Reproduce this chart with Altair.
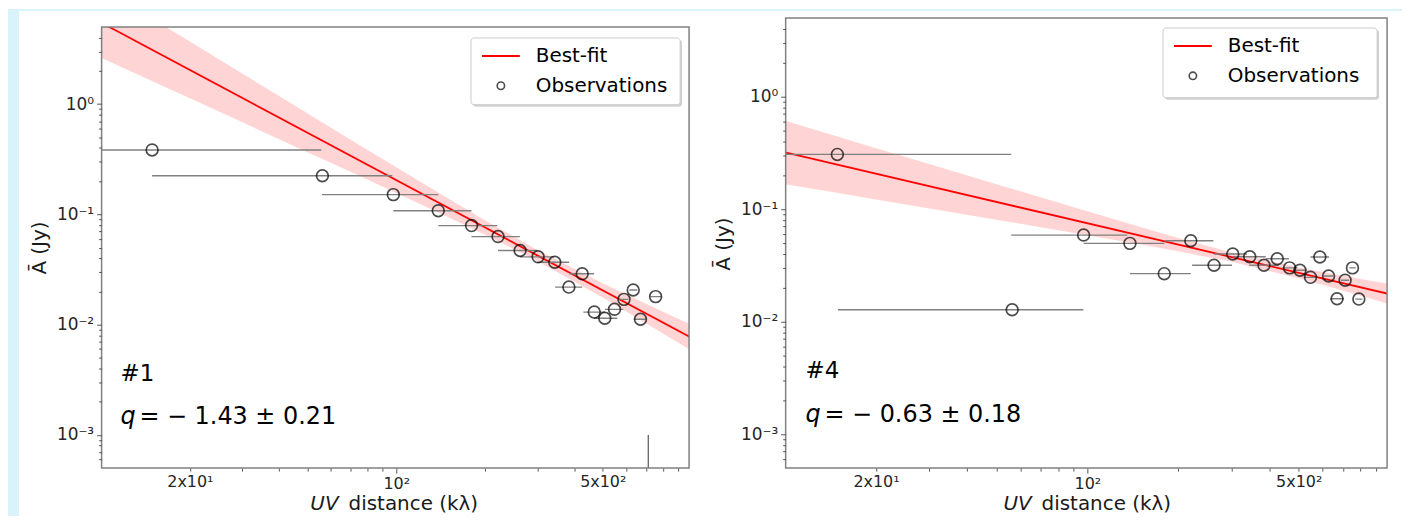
import altair as alt
import pandas as pd

# ---------------- data ----------------
# Panel #1 observations (UV distance in kλ, amplitude in Jy) with x-error extents
obs1_x = [14.9, 56.2, 97.7, 138.7, 179.8, 221, 262.5, 302, 344, 426, 384, 468, 508, 548, 590, 634, 671, 755]
obs1_y = [0.384, 0.224, 0.151, 0.108, 0.0791, 0.0629, 0.047, 0.0412, 0.0368, 0.0289, 0.0219, 0.0130,
          0.01143, 0.01377, 0.01695, 0.0206, 0.0112, 0.01795]
obs1_xlo = [9.0, 14.9, 56.0, 97.7, 138.7, 179.6, 221, 262, 300, 385, 345, 430, 467, 509, 570, 615, 637, 725]
obs1_xhi = [55.7, 97.0, 138.7, 179.6, 219.7, 262, 300, 342, 385, 467, 426, 509, 560, 587, 610, 655, 700, 790]

# Panel #4 observations
obs2_x = [14.9, 56.4, 97.2, 138.3, 179.6, 219.8, 262.4, 302.6, 344.4, 383.8, 424.7, 466.5, 504.9, 547,
          587.4, 627.7, 669.7, 712, 753, 790.6]
obs2_y = [0.307, 0.01277, 0.0589, 0.0497, 0.02675, 0.0524, 0.0318, 0.0400, 0.0378, 0.0318, 0.0363, 0.0301,
          0.0287, 0.0248, 0.0376, 0.0255, 0.0160, 0.0234, 0.0301, 0.01589]
obs2_xlo = [9.0, 14.96, 56.0, 97.2, 138.3, 180.3, 222, 262, 303, 343, 389, 440, 480, 520, 547, 605, 636, 690, 735, 770]
obs2_xhi = [56.0, 97.0, 135.5, 179.6, 219.8, 261, 301, 337, 389, 430, 464, 495, 530, 575, 630, 650, 705, 735, 772, 812]

# Best-fit power laws (end points) and uncertainty band edges
fit_x = [10, 1000]
fit1_y = [5.50, 0.00759]
fit2_y = [0.320, 0.01758]
band_x = [10, 15, 20, 30, 50, 70, 100, 150, 200, 300, 500, 700, 1000]
band1_lo = [2.64, 1.60, 1.13, 0.687, 0.366, 0.243, 0.156, 0.0942, 0.0653, 0.0378, 0.0176, 0.0103, 0.0058]
band1_hi = [11.5, 5.90, 3.69, 1.90, 0.824, 0.476, 0.267, 0.139, 0.0881, 0.0476, 0.0237, 0.0155, 0.0099]
band2_lo = [0.167, 0.139, 0.122, 0.1017, 0.0807, 0.0692, 0.0586, 0.0485, 0.0422, 0.0341, 0.0243, 0.0189, 0.01429]
band2_hi = [0.612, 0.441, 0.349, 0.252, 0.167, 0.1276, 0.0959, 0.0695, 0.0556, 0.0413, 0.0304, 0.02567, 0.0216]

# stray vertical error bar seen at the bottom of panel #1
stray1_x = [713]
stray1_lo = [3e-4]
stray1_hi = [1e-3]

# axis ticks
x_ticks = [20, 30, 40, 50, 60, 70, 80, 90, 100, 200, 300, 400, 500, 600, 700, 800, 900]
y_ticks = [6e-4, 7e-4, 8e-4, 9e-4,
           1e-3, 2e-3, 3e-3, 4e-3, 5e-3, 6e-3, 7e-3, 8e-3, 9e-3,
           1e-2, 2e-2, 3e-2, 4e-2, 5e-2, 6e-2, 7e-2, 8e-2, 9e-2,
           0.1, 0.2, 0.3, 0.4, 0.5, 0.6, 0.7, 0.8, 0.9,
           1, 2, 3, 4]

FONT = "DejaVu Sans"
RED = "#ff0000"
PAGE_BLUE = "#d9f3fa"

xs = alt.Scale(type="log", domain=[10.05, 980], nice=False)

xaxis = alt.Axis(
    values=x_ticks, title=None, grid=False, domain=False,
    labelExpr="datum.value == 20 ? '2x10¹' : datum.value == 100 ? '10²' : datum.value == 500 ? '5x10²' : ''",
    tickColor="#555555", tickWidth=1,
    tickSize={"condition": {"test": "datum.value == 100", "value": 5}, "value": 3},
    labelFont=FONT, labelFontSize=16, labelColor="#262626", labelPadding=2,
    labelOverlap=False, labelFlush=False, zindex=1,
)
yaxis = alt.Axis(
    values=y_ticks, title=None, grid=False, domain=False,
    labelExpr="datum.value == 1 ? '10⁰' : datum.value == 0.1 ? '10⁻¹' : datum.value == 0.01 ? '10⁻²' : datum.value == 0.001 ? '10⁻³' : ''",
    tickColor="#555555", tickWidth=1,
    tickSize={"condition": {"test": "datum.value == 1 || datum.value == 0.1 || datum.value == 0.01 || datum.value == 0.001", "value": 5}, "value": 3},
    labelFont=FONT, labelFontSize=17, labelColor="#262626", labelPadding=3,
    labelOverlap=False, labelFlush=False, zindex=1,
)


def build_panel(ox, oy, oxlo, oxhi, blo, bhi, fy, W, H, ytop, L, tag, qtxt, stray=None):
    ys = alt.Scale(type="log", domain=[5e-4, ytop], nice=False)

    def X(f):
        return alt.X(f, type="quantitative", scale=xs, axis=xaxis)

    def Y(f):
        return alt.Y(f, type="quantitative", scale=ys, axis=yaxis)

    one = pd.DataFrame({"k": [0]})
    obs = pd.DataFrame({"x": ox, "y": oy, "xlo": oxlo, "xhi": oxhi})
    band = pd.DataFrame({"x": band_x, "lo": blo, "hi": bhi})
    fit = pd.DataFrame({"x": fit_x, "y": fy})

    def vrect(x0, x1, y0, y1, **kw):
        return alt.Chart(one).mark_rect(**kw).encode(
            x=alt.value(x0), x2=alt.value(x1), y=alt.value(y0), y2=alt.value(y1))

    layers = []
    # light-blue page strips (outside the figure)
    for s in L["strips"]:
        layers.append(vrect(*s, color=PAGE_BLUE))
    layers.append(alt.Chart(band).mark_area(color=RED, opacity=0.17, clip=True).encode(
        x=X("x"), y=Y("lo"), y2=alt.Y2("hi")))
    layers.append(alt.Chart(fit).mark_line(color=RED, strokeWidth=1.8, clip=True).encode(
        x=X("x"), y=Y("y")))
    layers.append(alt.Chart(obs).mark_rule(color="#808080", strokeWidth=1.4, clip=True).encode(
        x=X("xlo"), x2=alt.X2("xhi"), y=Y("y")))
    if stray is not None:
        sdf = pd.DataFrame({"x": stray[0], "lo": stray[1], "hi": stray[2]})
        layers.append(alt.Chart(sdf).mark_rule(color="#555555", strokeWidth=1.2, clip=True).encode(
            x=X("x"), y=Y("lo"), y2=alt.Y2("hi")))
    layers.append(alt.Chart(obs).mark_point(shape="circle", filled=False, color="black",
                                            size=140, strokeWidth=1.7).encode(x=X("x"), y=Y("y")))
    ft = L["frame_top"]
    if ft > 0:
        layers.append(vrect(-1, W + 1, -2, ft, color="white"))
    # frame
    layers.append(vrect(0, W, ft, H, fillOpacity=0, stroke="#808080", strokeWidth=1.5))
    # legend
    lx0, lx1, ly0, ly1 = L["leg"]
    layers.append(vrect(lx0 + 2, lx1 + 2, ly0 + 2, ly1 + 2, color="#999999", opacity=0.45, cornerRadius=3))
    layers.append(vrect(lx0, lx1, ly0, ly1, fill="white", stroke="#cccccc", strokeWidth=1, cornerRadius=3))
    layers.append(alt.Chart(one).mark_rule(color=RED, strokeWidth=2).encode(
        x=alt.value(lx0 + 11), x2=alt.value(lx0 + 49), y=alt.value(ly0 + 18)))
    layers.append(alt.Chart(one).mark_point(shape="circle", filled=False, color="black",
                                            size=55, strokeWidth=1.6).encode(
        x=alt.value(lx0 + 30), y=alt.value(ly0 + 48)))
    for txt, yy in (("Best-fit", ly0 + 18), ("Observations", ly0 + 48)):
        layers.append(alt.Chart(one).mark_text(align="left", baseline="middle", font=FONT,
                                               fontSize=20, color="black").encode(
            x=alt.value(lx0 + 65), y=alt.value(yy), text=alt.value(txt)))
    # annotations
    layers.append(alt.Chart(one).mark_text(align="left", baseline="alphabetic", font=FONT,
                                           fontSize=23, color="black").encode(
        x=alt.value(L["ann_x"]), y=alt.value(L["tag_y"]), text=alt.value(tag)))
    layers.append(alt.Chart(one).mark_text(align="left", baseline="alphabetic", font=FONT,
                                           fontSize=24, fontStyle="italic", color="black").encode(
        x=alt.value(L["ann_x"]), y=alt.value(L["q_y"]), text=alt.value("q")))
    layers.append(alt.Chart(one).mark_text(align="left", baseline="alphabetic", font=FONT,
                                           fontSize=24, color="black").encode(
        x=alt.value(L["ann_x"] + 19), y=alt.value(L["q_y"]), text=alt.value(qtxt)))
    # axis titles
    layers.append(alt.Chart(one).mark_text(align="center", baseline="middle", angle=270, font=FONT,
                                           fontSize=20, color="#1a1a1a").encode(
        x=alt.value(L["yt"][0]), y=alt.value(L["yt"][1]), text=alt.value("Ā (Jy)")))
    layers.append(alt.Chart(one).mark_text(align="right", baseline="alphabetic", font=FONT,
                                           fontSize=20, fontStyle="italic", color="#1a1a1a").encode(
        x=alt.value(L["xt"][0]), y=alt.value(L["xt"][2]), text=alt.value("UV")))
    layers.append(alt.Chart(one).mark_text(align="left", baseline="alphabetic", font=FONT,
                                           fontSize=20, color="#1a1a1a").encode(
        x=alt.value(L["xt"][1]), y=alt.value(L["xt"][2]), text=alt.value("distance (kλ)")))
    return alt.layer(*layers).properties(width=W, height=H)


# panel-relative layout (plot origins at page (102,17) and (789,17))
L1 = {"strips": [(-94, -83, -9, 500), (-94, 598, -9, -7)], "frame_top": 9,
      "leg": (371, 581, 20, 87), "ann_x": 19, "tag_y": 365, "q_y": 408,
      "yt": (-62, 231), "xt": (238, 248, 494)}
L2 = {"strips": [(-89, 619, -9, -7)], "frame_top": 0,
      "leg": (379, 594, 10, 80), "ann_x": 20, "tag_y": 361, "q_y": 406,
      "yt": (-62, 227), "xt": (247, 257, 494)}

p1 = build_panel(obs1_x, obs1_y, obs1_xlo, obs1_xhi, band1_lo, band1_hi, fit1_y, 590, 452, 6.03, L1,
                 "#1", "= − 1.43 ± 0.21", stray=(stray1_x, stray1_lo, stray1_hi))
p2 = build_panel(obs2_x, obs2_y, obs2_xlo, obs2_xhi, band2_lo, band2_hi, fit2_y, 604, 452, 5.0, L2,
                 "#4", "= − 0.63 ± 0.18")

chart = alt.hconcat(p1, p2, spacing=0).properties(
    padding={"left": 0, "top": 0, "right": 0, "bottom": 0}
).configure(background="white").configure_view(strokeWidth=0)

chart.save("out.html", embed_options={"renderer": "svg", "actions": False})
